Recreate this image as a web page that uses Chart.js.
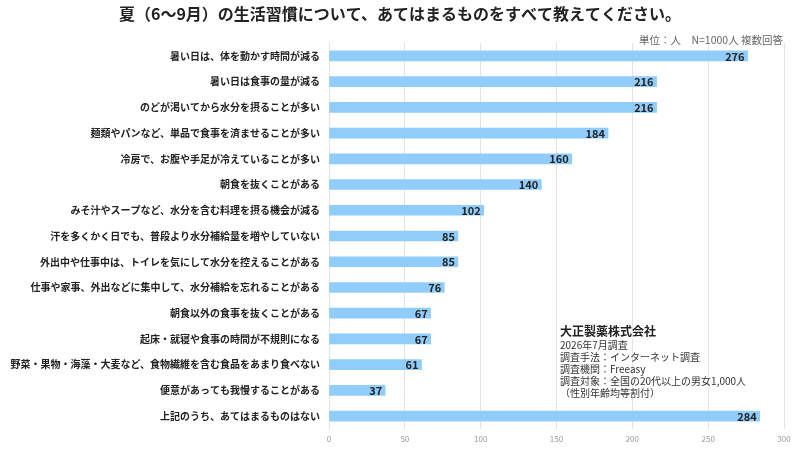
<!DOCTYPE html>
<html>
<head>
<meta charset="utf-8">
<script src="https://cdn.jsdelivr.net/npm/chart.js@4/dist/chart.umd.min.js"></script>
<style>
html,body{margin:0;padding:0;background:#fff;}
#wrap{width:800px;height:450px;position:relative;}
</style>
</head>
<body>
<div id="wrap"><canvas id="c" width="800" height="450"></canvas></div>
<script>
const titleText = "夏（6〜9月）の生活習慣について、あてはまるものをすべて教えてください。";
const unitNote = "単位：人　N=1000人 複数回答";
const categories = [
  "暑い日は、体を動かす時間が減る",
  "暑い日は食事の量が減る",
  "のどが渇いてから水分を摂ることが多い",
  "麺類やパンなど、単品で食事を済ませることが多い",
  "冷房で、お腹や手足が冷えていることが多い",
  "朝食を抜くことがある",
  "みそ汁やスープなど、水分を含む料理を摂る機会が減る",
  "汗を多くかく日でも、普段より水分補給量を増やしていない",
  "外出中や仕事中は、トイレを気にして水分を控えることがある",
  "仕事や家事、外出などに集中して、水分補給を忘れることがある",
  "朝食以外の食事を抜くことがある",
  "起床・就寝や食事の時間が不規則になる",
  "野菜・果物・海藻・大麦など、食物繊維を含む食品をあまり食べない",
  "便意があっても我慢することがある",
  "上記のうち、あてはまるものはない"
];
const values = [276, 216, 216, 184, 160, 140, 102, 85, 85, 76, 67, 67, 61, 37, 284];
const xTicks = [0, 50, 100, 150, 200, 250, 300];
const sourceTitle = "大正製薬株式会社";
const sourceLines = [
  "2026年7月調査",
  "調査手法：インターネット調査",
  "調査機関：Freeasy",
  "調査対象：全国の20代以上の男女1,000人",
  "（性別年齢均等割付）"
];

const FONT = "'Noto Sans CJK JP', 'Noto Sans', sans-serif";

const overlay = {
  id: 'overlay',
  afterDatasetsDraw(chart) {
    const ctx = chart.ctx;
    const meta = chart.getDatasetMeta(0);
    ctx.save();
    ctx.font = "bold 11px " + FONT;
    ctx.fillStyle = "#222";
    ctx.textAlign = "right";
    ctx.textBaseline = "middle";
    meta.data.forEach((bar, i) => {
      ctx.fillText(String(values[i]), bar.x - 3, bar.y + 0.5);
    });
    ctx.restore();
  },
  afterDraw(chart) {
    const ctx = chart.ctx;
    ctx.save();
    ctx.fillStyle = "#222";
    ctx.font = "bold 16px " + FONT;
    ctx.textAlign = "center";
    ctx.textBaseline = "middle";
    ctx.fillText(titleText, 400, 14);

    ctx.font = "10.5px " + FONT;
    ctx.fillStyle = "#666";
    ctx.textAlign = "right";
    ctx.fillText(unitNote, 783, 40);

    ctx.textAlign = "left";
    ctx.fillStyle = "#222";
    ctx.font = "bold 12px " + FONT;
    ctx.fillText(sourceTitle, 560, 331);
    ctx.font = "10px " + FONT;
    ctx.fillStyle = "#333";
    sourceLines.forEach((t, i) => {
      ctx.fillText(t, 560, 345 + i * 12);
    });
    ctx.restore();
  }
};

new Chart(document.getElementById('c'), {
  type: 'bar',
  data: {
    labels: categories,
    datasets: [{
      data: values,
      backgroundColor: '#90CDFB',
      borderWidth: 0,
      barThickness: 10
    }]
  },
  options: {
    indexAxis: 'y',
    responsive: false,
    animation: false,
    devicePixelRatio: 1,
    layout: { padding: { top: 43, right: 16, left: 0, bottom: 0 } },
    plugins: {
      legend: { display: false },
      tooltip: { enabled: false },
      title: { display: false }
    },
    scales: {
      x: {
        min: 0,
        max: 300,
        afterBuildTicks(scale) { scale.ticks = xTicks.map(v => ({ value: v })); },
        afterFit(scale) { scale.height = 21; },
        grid: { color: '#e3e3e3', drawTicks: false, lineWidth: 1 },
        border: { display: false },
        ticks: { color: '#999', font: { size: 8, family: FONT }, padding: 5 }
      },
      y: {
        afterFit(scale) { scale.width = 329; },
        grid: { display: false, drawTicks: false },
        border: { display: false },
        ticks: { color: '#222', font: { size: 10, weight: 'bold', family: FONT }, padding: 9, autoSkip: false }
      }
    }
  },
  plugins: [overlay]
});
</script>
</body>
</html>
